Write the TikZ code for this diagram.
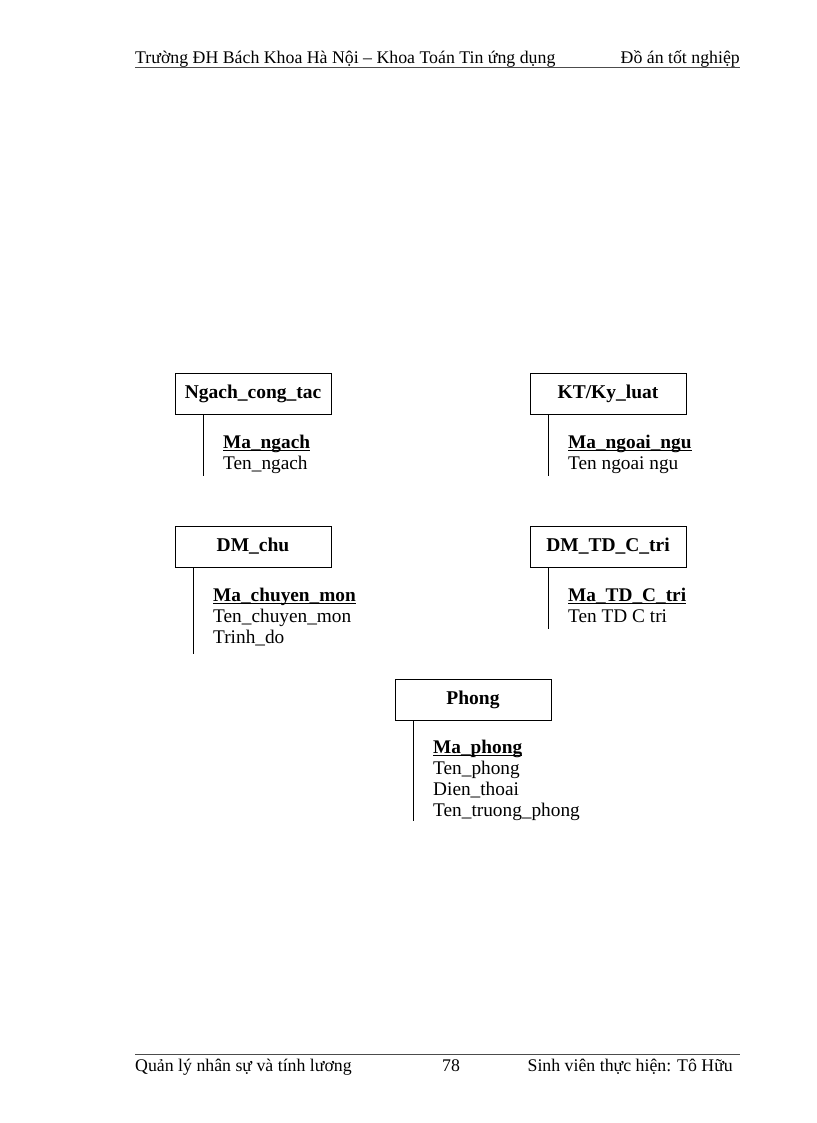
\documentclass[tikz,border=0pt]{standalone}
\usepackage{fontspec}
\setmainfont{Liberation Serif}
\newcommand{\myul}[1]{\setbox0\hbox{#1}\rlap{\rule[-2.6pt]{\wd0}{1.1pt}}\box0}
\begin{document}
\begin{tikzpicture}[x=1pt,y=-1pt,
  entity/.style={draw,line width=0.8pt,minimum width=156pt,minimum height=41pt,inner sep=0pt,font=\fontsize{19.5}{21}\selectfont\bfseries},
  attrs/.style={anchor=north west,align=left,inner sep=0pt,font=\fontsize{19.3}{21}\selectfont},
  stem/.style={line width=0.8pt},
  hdr/.style={inner sep=0pt,font=\fontsize{17.8}{20}\selectfont}]
\useasboundingbox (0,0) rectangle (816,1123);
% header
\node[hdr,anchor=base west] (h1) at (135,64) {Trường ĐH Bách Khoa Hà Nội – Khoa Toán Tin ứng dụng};
\node[hdr,anchor=base east] (h2) at (740,64) {Đồ án tốt nghiệp};
\coordinate (hl1) at (135,67.5);
\coordinate (hl2) at (740,67.5);
\draw[line width=0.6pt,black!70] (hl1) -- (hl2);
% footer
\coordinate (fl1) at (135,1054);
\coordinate (fl2) at (740,1054);
\draw[line width=0.6pt,black!70] (fl1) -- (fl2);
\node[hdr,anchor=base west] (f1) at (135,1071) {Quản lý nhân sự và tính lương};
\node[hdr,anchor=base] (f2) at (451,1071) {78};
\node[hdr,anchor=base east] (f3) at (733,1071) {Sinh viên thực hiện: Tô Hữu};
% entities
\node[entity] (e1) at (253,393.5) {Ngach\_cong\_tac};
\node[attrs] (a1) at (223,435) {\textbf{\myul{Ma\_ngach}}\\Ten\_ngach};
\coordinate (s1) at (204,476);
\draw[stem] (e1.south west) ++(29,0) coordinate (t1) -- (t1 |- s1);

\node[entity] (e2) at (608,393.5) {KT/Ky\_luat};
\node[attrs] (a2) at (568,435) {\textbf{\myul{Ma\_ngoai\_ngu}}\\Ten ngoai ngu};
\coordinate (s2) at (549,476);
\draw[stem] (e2.south west) ++(19,0) coordinate (t2) -- (t2 |- s2);

\node[entity] (e3) at (253,546.5) {DM\_chu};
\node[attrs] (a3) at (213,588) {\textbf{\myul{Ma\_chuyen\_mon}}\\Ten\_chuyen\_mon\\Trinh\_do};
\coordinate (s3) at (194,654);
\draw[stem] (e3.south west) ++(19,0) coordinate (t3) -- (t3 |- s3);

\node[entity] (e4) at (608,546.5) {DM\_TD\_C\_tri};
\node[attrs] (a4) at (568,588) {\textbf{\myul{Ma\_TD\_C\_tri}}\\Ten TD C tri};
\coordinate (s4) at (549,629);
\draw[stem] (e4.south west) ++(19,0) coordinate (t4) -- (t4 |- s4);

\node[entity] (e5) at (473,700) {Phong};
\node[attrs] (a5) at (433,740) {\textbf{\myul{Ma\_phong}}\\Ten\_phong\\Dien\_thoai\\Ten\_truong\_phong};
\coordinate (s5) at (414,821);
\draw[stem] (e5.south west) ++(19,0) coordinate (t5) -- (t5 |- s5);
\end{tikzpicture}
\end{document}
